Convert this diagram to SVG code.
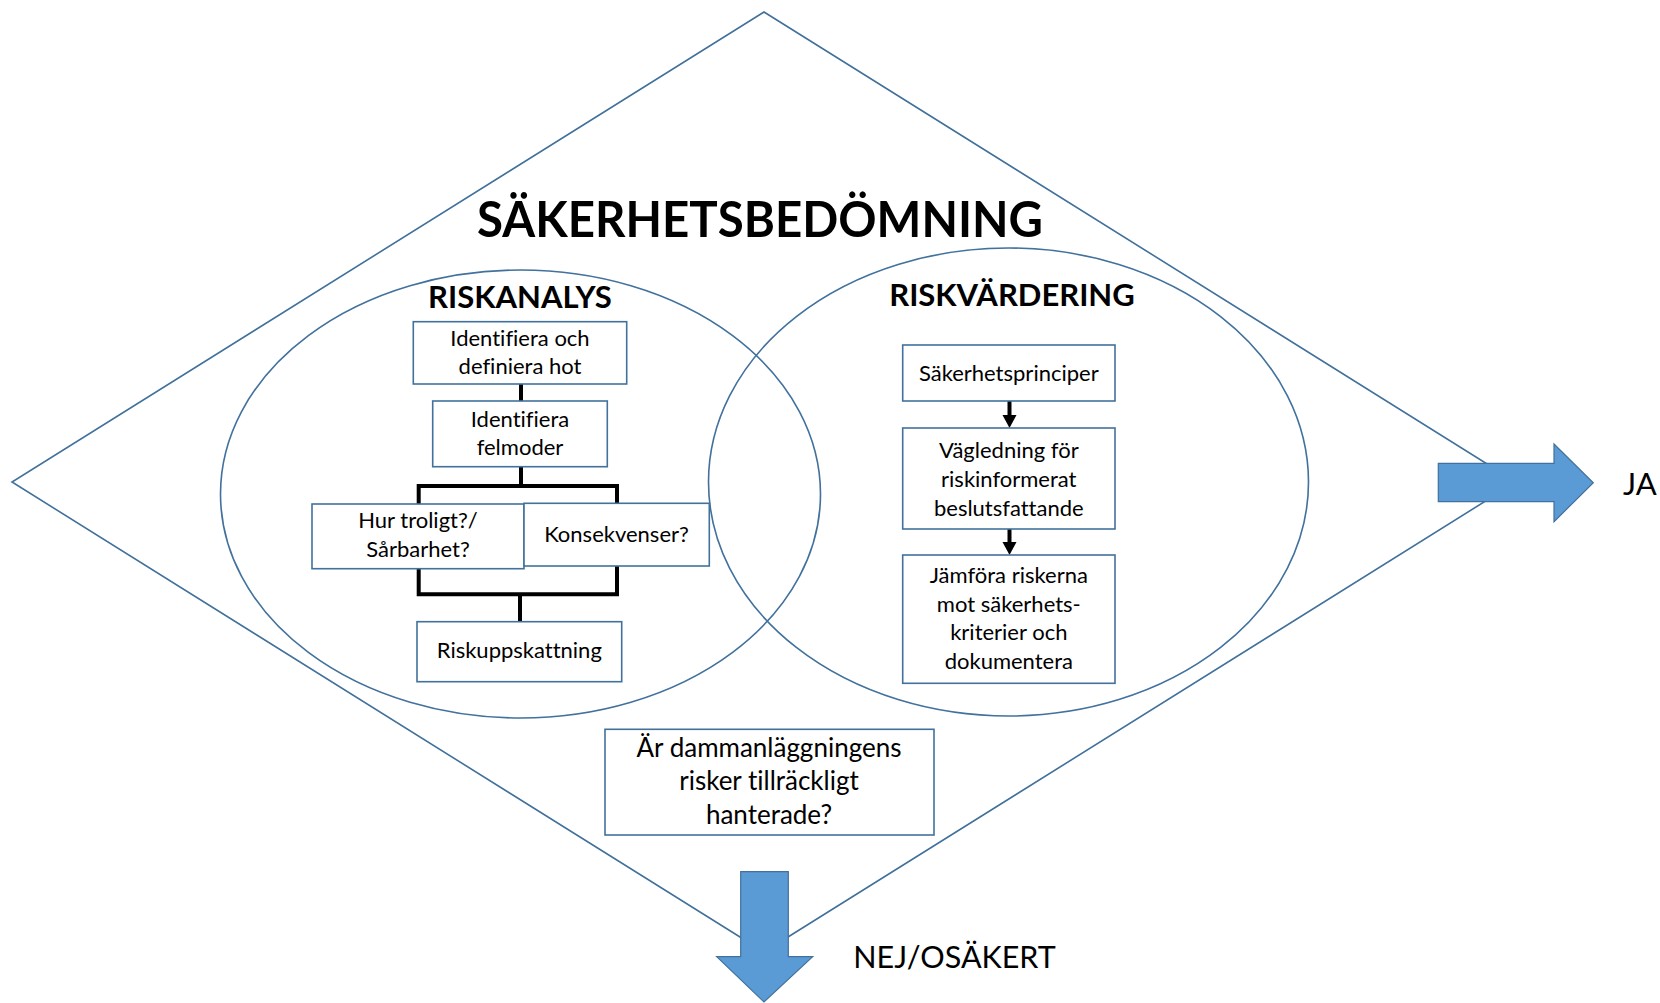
<svg xmlns="http://www.w3.org/2000/svg" width="1660" height="1003" viewBox="0 0 1660 1003">
<style>
.outline{fill:none;stroke:#41719c;stroke-width:1.6}
.box{fill:#ffffff;stroke:#41719c;stroke-width:1.6}
.arrow{fill:#5b9bd5;stroke:#41719c;stroke-width:1.2}
.conn{fill:none;stroke:#000000;stroke-width:4}
.t{font-family:Lato,"Open Sans","Liberation Sans",sans-serif;fill:#000000;text-anchor:middle;font-variant-ligatures:none}
.bt{font-size:22px}
.h{font-weight:bold}
</style>
<rect width="1660" height="1003" fill="#ffffff"/>
<g id="diamond">
<polygon class="outline" points="764,12 1516,482 764,952 12,482"/>
</g>
<g id="title"><text class="t h" x="760" y="237" font-size="50" textLength="566" lengthAdjust="spacingAndGlyphs">SÄKERHETSBEDÖMNING</text></g>
<g id="riskanalys">
<ellipse class="outline" cx="520.5" cy="494" rx="300" ry="224"/>
<text class="t h" x="520" y="308" font-size="31">RISKANALYS</text>
</g>
<g id="riskvardering">
<ellipse class="outline" cx="1008.5" cy="482" rx="300" ry="234"/>
<text class="t h" x="1012" y="306" font-size="31">RISKVÄRDERING</text>
</g>
<g id="connectors">
<path class="conn" d="M521,384 V401 M521,466 V486 M418.7,486 H617 M418.7,484 V504 M617,484 V503 M418.7,568 V594.3 M617,566 V594.3 M416.7,594.3 H619 M520,594.3 V622"/>
<path class="conn" d="M1009.5,401 V418" stroke-width="3.5"/>
<polygon points="1002.5,415 1016.5,415 1009.5,428" fill="#000"/>
<path class="conn" d="M1009.5,529 V545" stroke-width="3.5"/>
<polygon points="1002.5,542 1016.5,542 1009.5,555" fill="#000"/>
</g>
<g id="n-identifiera-hot">
<rect class="box" x="413.3" y="321.7" width="213.4" height="62.3"/>
<text class="t bt" x="520" y="346">Identifiera och</text>
<text class="t bt" x="520" y="374.3">definiera hot</text>
</g>
<g id="n-felmoder">
<rect class="box" x="432.7" y="401" width="174.6" height="65.7"/>
<text class="t bt" x="520" y="426.7">Identifiera</text>
<text class="t bt" x="520" y="455">felmoder</text>
</g>
<g id="n-hur-troligt">
<rect class="box" x="312" y="504" width="212" height="64.7"/>
<text class="t bt" x="418" y="528.3">Hur troligt?/</text>
<text class="t bt" x="418" y="556.7">Sårbarhet?</text>
</g>
<g id="n-konsekvenser">
<rect class="box" x="524" y="503.3" width="185.3" height="62.7"/>
<text class="t bt" x="616.5" y="541.7">Konsekvenser?</text>
</g>
<g id="n-riskuppskattning">
<rect class="box" x="417" y="621.7" width="204.7" height="60"/>
<text class="t bt" x="519.3" y="658.3">Riskuppskattning</text>
</g>
<g id="n-sakerhetsprinciper">
<rect class="box" x="902.7" y="345" width="212.3" height="56"/>
<text class="t bt" x="1008.8" y="380.7">Säkerhetsprinciper</text>
</g>
<g id="n-vagledning">
<rect class="box" x="902.7" y="428" width="212.3" height="101"/>
<text class="t bt" x="1008.8" y="458.3">Vägledning för</text>
<text class="t bt" x="1008.8" y="486.7">riskinformerat</text>
<text class="t bt" x="1008.8" y="515.7">beslutsfattande</text>
</g>
<g id="n-jamfora">
<rect class="box" x="902.7" y="555" width="212.3" height="128.3"/>
<text class="t bt" x="1008.8" y="582.7">Jämföra riskerna</text>
<text class="t bt" x="1008.8" y="611.7">mot säkerhets-</text>
<text class="t bt" x="1008.8" y="640">kriterier och</text>
<text class="t bt" x="1008.8" y="668.7">dokumentera</text>
</g>
<g id="n-fraga">
<rect class="box" x="605" y="729.3" width="329" height="105.7"/>
<text class="t" x="769" y="757.3" font-size="26">Är dammanläggningens</text>
<text class="t" x="769" y="790" font-size="26">risker tillräckligt</text>
<text class="t" x="769" y="824" font-size="26">hanterade?</text>
</g>
<g id="n-ja">
<polygon class="arrow" points="1438.3,463.3 1554,463.3 1554,444 1593.3,482.7 1554,521.7 1554,501.7 1438.3,501.7"/>
<text class="t" x="1623" y="495" font-size="31" style="text-anchor:start">JA</text>
</g>
<g id="n-nej">
<polygon class="arrow" points="740.7,871.7 788.3,871.7 788.3,956.7 812.7,956.7 764,1002 716.7,956.7 740.7,956.7"/>
<text class="t" x="853.3" y="968.3" font-size="30.5" style="text-anchor:start">NEJ/OSÄKERT</text>
</g>
</svg>
